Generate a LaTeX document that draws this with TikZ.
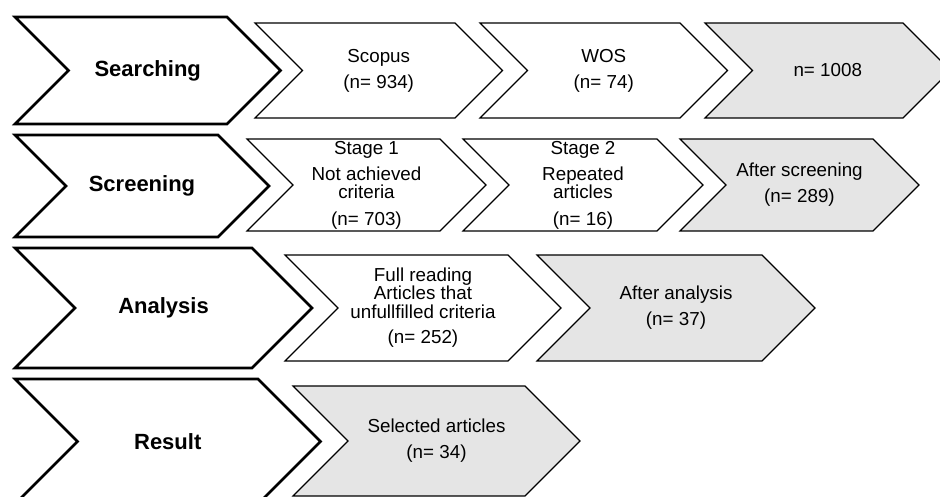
\documentclass[tikz,border=0pt]{standalone}
\usepackage{fontspec}
\setmainfont{Liberation Sans}
\usetikzlibrary{calc}
\definecolor{totalfill}{HTML}{E5E5E5}
\definecolor{chevline}{HTML}{000000}
\tikzset{
    phase/.style={draw=chevline, line width=2.6pt, fill=white, line join=miter},
    phase label/.style={font=\fontsize{22}{26}\selectfont\bfseries},
    count/.style={draw=chevline, line width=1.1pt, fill=white, line join=miter},
    count label/.style={font=\fontsize{18.8}{26}\selectfont, align=center, inner sep=0pt},
    total/.style={count, fill=totalfill},
    total label/.style={count label}
}
\newcommand{\flowchevron}[7]{%
    \pgfmathsetmacro\chevhalf{(#6-#5)/2}
    \draw[#1] (#3,#5) -- (#4,#5) -- (#4+\chevhalf,#5+\chevhalf) -- (#4,#6)
        -- (#3,#6) -- (#3+\chevhalf,#5+\chevhalf) -- cycle;
    \node[#1 label] (#2) at ({(#3+#4)/2+\chevhalf/2},{(#5+#6)/2}) {#7};
}

\begin{document}
\begin{tikzpicture}[x=1pt, y=-1pt]
    \useasboundingbox (0,0) rectangle (940,497);
    \clip (0,0) rectangle (940,497);

    \flowchevron{phase}{searching}{15}{227}{17}{124}{Searching}
    \flowchevron{count}{scopus}{255}{455}{23}{118}{Scopus\\(n= 934)}
    \flowchevron{count}{wos}{480}{680}{23}{118}{WOS\\(n= 74)}
    \flowchevron{total}{found}{705}{903}{23}{118}{n= 1008}

    \flowchevron{phase}{screening}{15}{218}{135}{237}{Screening}
    \flowchevron{count}{stageone}{247}{440}{139}{231}{Stage 1\\Not achieved\\[-8pt]criteria\\[1pt](n= 703)}
    \flowchevron{count}{stagetwo}{463}{657}{139}{231}{Stage 2\\Repeated\\[-8pt]articles\\[1pt](n= 16)}
    \flowchevron{total}{screened}{680}{873}{139}{231}{After screening\\(n= 289)}

    \flowchevron{phase}{analysis}{15}{252}{248}{368}{Analysis}
    \flowchevron{count}{fullreading}{285}{508}{255}{361}{Full reading\\[-8pt]Articles that\\[-7pt]unfullfilled criteria\\[-1pt](n= 252)}
    \flowchevron{total}{analysed}{537}{762}{255}{361}{After analysis\\(n= 37)}

    \flowchevron{phase}{result}{15}{258}{379}{504}{Result}
    \flowchevron{total}{selected}{293}{525}{386}{496}{Selected articles\\(n= 34)}
\end{tikzpicture}
\end{document}
